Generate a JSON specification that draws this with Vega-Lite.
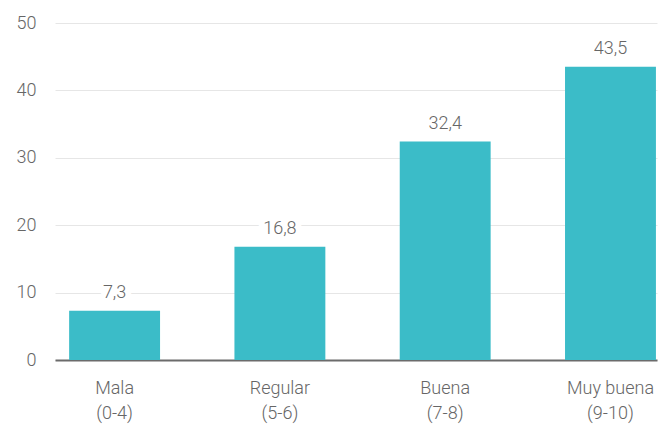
{
  "$schema": "https://vega.github.io/schema/vega-lite/v6.json",
  "width": 602,
  "height": 337,
  "autosize": {"type": "none"},
  "padding": {"left": 55, "top": 23, "right": 5, "bottom": 65},
  "background": "white",
  "config": {
    "view": {"stroke": null},
    "font": "Roboto"
  },
  "data": {
    "values": [
      {"cat": "Mala|(0-4)", "value": 7.3, "label": "7,3"},
      {"cat": "Regular|(5-6)", "value": 16.8, "label": "16,8"},
      {"cat": "Buena|(7-8)", "value": 32.4, "label": "32,4"},
      {"cat": "Muy buena|(9-10)", "value": 43.5, "label": "43,5"}
    ]
  },
  "encoding": {
    "x": {
      "field": "cat",
      "type": "nominal",
      "sort": null,
      "scale": {"paddingInner": 0.45, "paddingOuter": 0.046, "align": 0.93},
      "axis": {
        "title": null,
        "labelAngle": 0,
        "labelExpr": "split(datum.label, '|')",
        "labelFontSize": 18,
        "labelFontWeight": 300,
        "labelColor": "#666666",
        "labelLineHeight": 25,
        "labelPadding": 19,
        "ticks": false,
        "domainColor": "#6b6b6b",
        "domainWidth": 2,
        "grid": false
      }
    },
    "y": {
      "field": "value",
      "type": "quantitative",
      "scale": {"domain": [0, 50]},
      "axis": {
        "title": null,
        "values": [0, 10, 20, 30, 40, 50],
        "labelFontSize": 18,
        "labelFontWeight": 300,
        "labelColor": "#666666",
        "labelPadding": 19,
        "ticks": false,
        "domain": false,
        "gridColor": "#e6e6e6",
        "gridWidth": 1
      }
    }
  },
  "layer": [
    {"mark": {"type": "bar", "color": "#3bbcc8"}},
    {
      "mark": {"type": "text", "baseline": "bottom", "dy": -9, "fontSize": 18, "fontWeight": 300, "stroke": "white", "strokeWidth": 12, "fill": "white"},
      "encoding": {"text": {"field": "label"}}
    },
    {
      "mark": {"type": "text", "baseline": "bottom", "dy": -9, "fontSize": 18, "fontWeight": 300, "color": "#666666"},
      "encoding": {"text": {"field": "label"}}
    }
  ]
}
